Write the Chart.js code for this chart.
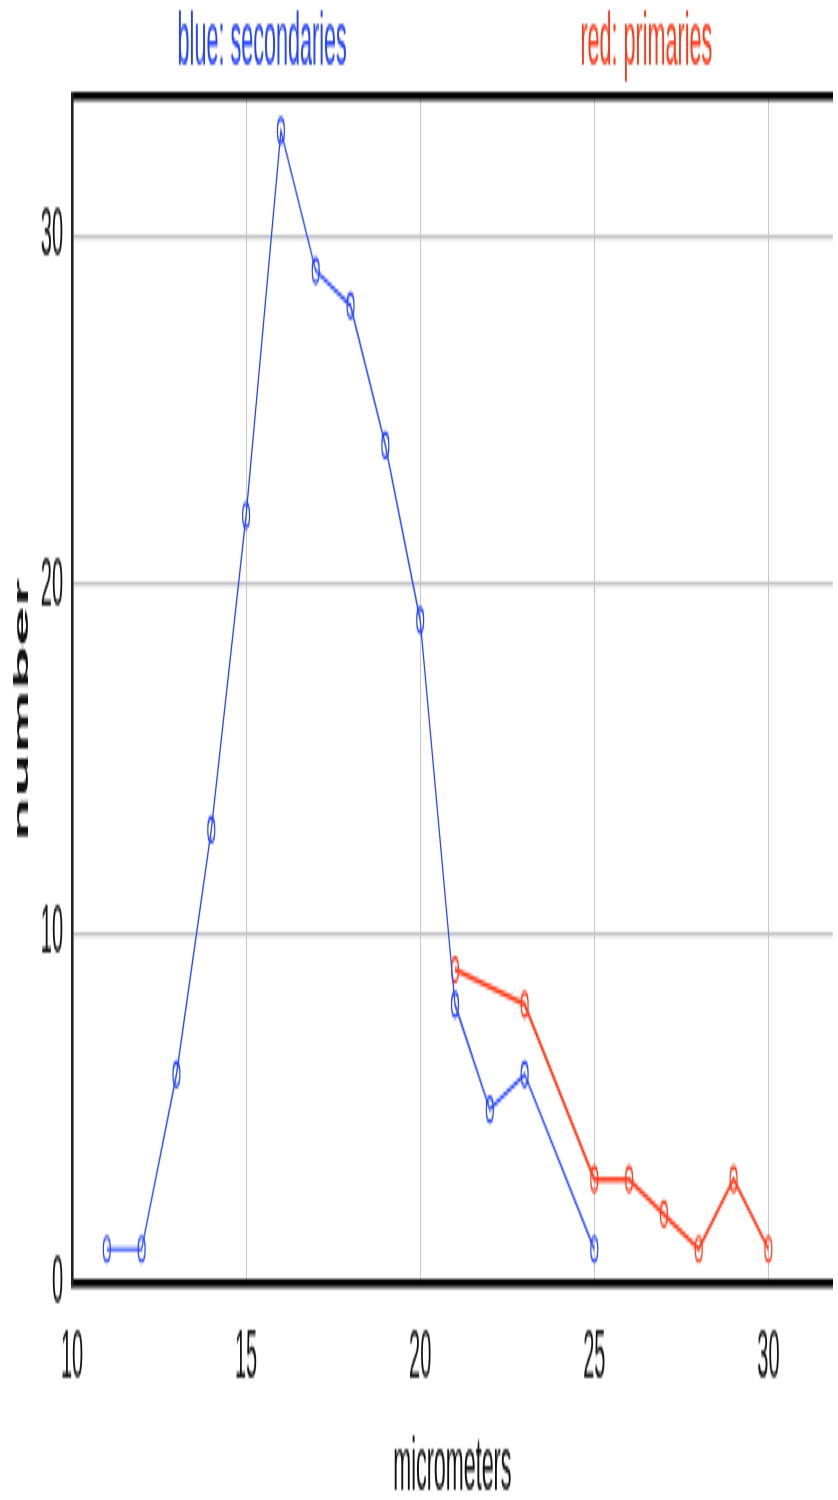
<!DOCTYPE html>
<html lang="en">
<head>
<meta charset="UTF-8" />
<title>secondaries / primaries</title>
<script src="https://cdn.jsdelivr.net/npm/chart.js"></script>
<style>
    body {
        margin: 0;
        overflow: hidden;
        background: #fff;
    }
</style>
</head>
<body>
<!-- the reference is a small chart stretched tall: draw at 838x441, show at 838x1500 -->
<canvas id="chart" width="838" height="441" style="width:838px;height:1500px;display:block;"></canvas>

<script>
// blue: secondaries
const secondaryX = [11, 12, 13, 14, 15, 16, 17, 18, 19, 20, 21, 22, 23, 25];
const secondaryY = [1, 1, 6, 13, 22, 33, 29, 28, 24, 19, 8, 5, 6, 1];
// red: primaries
const primaryX = [21, 23, 25, 26, 27, 28, 29, 30];
const primaryY = [9, 8, 3, 3, 2, 1, 3, 1];

const xTicks = [10, 15, 20, 25, 30];
const yTicks = [0, 10, 20, 30];

const seriesLabels = ['blue: secondaries', 'red: primaries'];
const blue = '#2442ff';
const red = '#ff3818';
const font = "'Liberation Sans', Arial, sans-serif";

const toPoints = (xs, ys) => xs.map((x, i) => ({ x: x, y: ys[i] }));

// plot runs right up to the canvas edge, so drop the label padding chart.js adds
const fitX = h => s => { s.height = h; s.paddingLeft = 0; s.paddingRight = 0; };

// two coloured captions above the plot, at a quarter and three quarters across
const captions = {
    id: 'captions',
    afterDraw(chart) {
        const ctx = chart.ctx;
        const a = chart.chartArea;
        const w = a.right - a.left;
        ctx.save();
        ctx.font = '21.6px ' + font;
        ctx.textAlign = 'center';
        ctx.textBaseline = 'alphabetic';
        ctx.fillStyle = blue;
        ctx.fillText(seriesLabels[0], a.left + w * 0.25, 19);
        ctx.fillStyle = red;
        ctx.fillText(seriesLabels[1], a.left + w * 0.755, 19);
        ctx.restore();
    }
};

const ctx = document.getElementById('chart').getContext('2d');
new Chart(ctx, {
    type: 'scatter',
    data: {
        datasets: [
            {
                label: seriesLabels[0],
                data: toPoints(secondaryX, secondaryY),
                showLine: true,
                borderColor: blue,
                borderWidth: 1.2,
                pointStyle: 'circle',
                pointRadius: 3.5,
                pointBorderWidth: 1.2,
                pointBorderColor: blue,
                pointBackgroundColor: 'rgba(0,0,0,0)',
                tension: 0
            },
            {
                label: seriesLabels[1],
                data: toPoints(primaryX, primaryY),
                showLine: true,
                borderColor: red,
                borderWidth: 1.5,
                pointStyle: 'circle',
                pointRadius: 3.5,
                pointBorderWidth: 1.2,
                pointBorderColor: red,
                pointBackgroundColor: 'rgba(0,0,0,0)',
                tension: 0
            }
        ]
    },
    options: {
        responsive: false,
        animation: false,
        devicePixelRatio: 1,
        layout: { padding: { top: 28.2, left: 0, right: 0, bottom: 0 } },
        plugins: {
            legend: { display: false },
            tooltip: { enabled: false }
        },
        scales: {
            x: {
                type: 'linear',
                position: 'bottom',
                min: 10,
                max: 31.85,
                afterBuildTicks: s => { s.ticks = xTicks.map(v => ({ value: v })); },
                afterFit: fitX(63.5),
                ticks: {
                    color: '#111',
                    padding: 10,
                    maxRotation: 0,
                    font: { family: font, size: 20 }
                },
                grid: { color: '#c8c8c8', lineWidth: 1, drawTicks: false },
                border: { color: '#000', width: 2.6 },
                title: {
                    display: true,
                    text: 'micrometers',
                    color: '#111',
                    font: { family: font, size: 21.5, lineHeight: 1 },
                    padding: { top: 0, bottom: -2 }
                }
            },
            xTop: {
                type: 'linear',
                position: 'top',
                min: 10,
                max: 31.85,
                afterFit: fitX(0),
                ticks: { display: false },
                grid: { display: false, drawTicks: false },
                border: { color: '#000', width: 2.6 }
            },
            y: {
                type: 'linear',
                min: 0,
                max: 34,
                afterBuildTicks: s => { s.ticks = yTicks.map(v => ({ value: v })); },
                afterFit: s => { s.width = 72; },
                ticks: {
                    color: '#111',
                    padding: 9,
                    font: { family: font, size: 20 }
                },
                grid: { color: '#c4c4c4', lineWidth: 1.3, drawTicks: false },
                border: { color: '#222', width: 2.6 },
                title: {
                    display: true,
                    text: 'number  ',
                    color: '#111',
                    font: { family: font, size: 21, weight: 'bold', lineHeight: 1 },
                    padding: { top: 12, bottom: 0 }
                }
            }
        }
    },
    plugins: [captions]
});
</script>
</body>
</html>
